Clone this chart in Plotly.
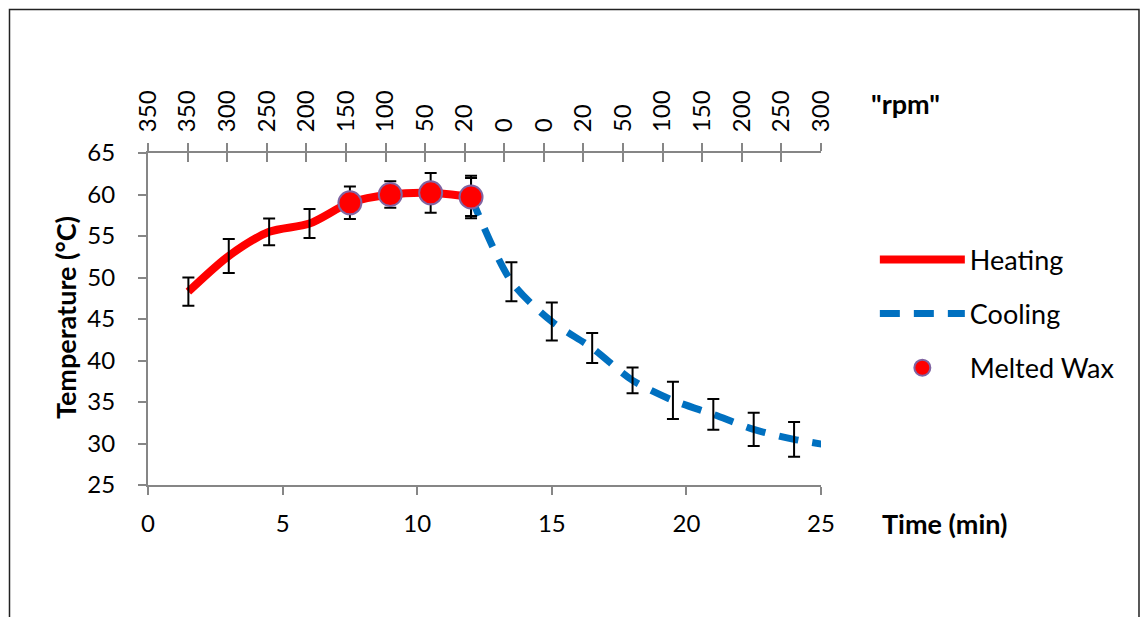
import plotly.graph_objects as go

# Heating phase: time (min), mean temperature (°C) and standard deviation
heat_time = [1.5, 3.0, 4.5, 6.0, 7.5, 9.0, 10.5, 12.0]
heat_temp = [48.3, 52.6, 55.5, 56.5, 59.0, 60.0, 60.2, 59.7]
heat_err = [1.7, 2.05, 1.6, 1.75, 1.95, 1.6, 2.4, 2.55]

# Cooling phase (last point lies past the axis end and is clipped)
cool_time = [12.0, 13.5, 15.0, 16.5, 18.0, 19.5, 21.0, 22.5, 24.0, 25.5]
cool_temp = [59.7, 49.5, 44.7, 41.5, 37.6, 35.2, 33.5, 31.7, 30.5, 29.7]
cool_err = [2.3, 2.35, 2.3, 1.8, 1.55, 2.25, 1.85, 2.0, 2.1, 2.0]

# Readings where the wax was melted
wax_time = [7.5, 9.0, 10.5, 12.0]
wax_temp = [59.0, 60.0, 60.2, 59.7]

# Stirring speed ("rpm") labels along the top axis
rpm_labels = ["350", "350", "300", "250", "200", "150", "100", "50", "20",
              "0", "0", "20", "50", "100", "150", "200", "250", "300"]

FONT = "Lato"
FS = 24        # tick labels
FS_LEG = 27    # legend entries
FS_TITLE = 27  # bold axis titles
AXIS_GRAY = "#868686"
RED = "#FF0000"
BLUE = "#0070C0"

# Top axis tick positions: evenly spaced categories
top_pos = list(range(len(rpm_labels)))

fig = go.Figure()

fig.add_trace(go.Scatter(
    x=heat_time, y=heat_temp, mode="lines", name="Heating",
    line=dict(color=RED, width=8, shape="spline", smoothing=0.8),
    legend="legend", hoverinfo="x+y"))

fig.add_trace(go.Scatter(
    x=cool_time, y=cool_temp, mode="lines", name="Cooling",
    line=dict(color=BLUE, width=7, shape="spline", smoothing=0.8, dash="20px,14px"),
    legend="legend2", hoverinfo="x+y"))

# Error bars for both phases
for xs, ys, es in [(heat_time, heat_temp, heat_err), (cool_time, cool_temp, cool_err)]:
    fig.add_trace(go.Scatter(
        x=xs, y=ys, mode="markers", showlegend=False, hoverinfo="skip",
        marker=dict(size=1, color="rgba(0,0,0,0)"),
        error_y=dict(type="data", array=es, visible=True, color="black",
                     thickness=2, width=6)))

fig.add_trace(go.Scatter(
    x=wax_time, y=wax_temp, mode="markers", name="Melted Wax",
    marker=dict(size=23, color=RED, line=dict(color="#8064A2", width=2)),
    legend="legend3"))

# Empty traces that attach the rpm scale (labels + inner tick half) to the plot
for ax in ["x2", "x3"]:
    fig.add_trace(go.Scatter(x=top_pos, y=[None] * len(top_pos), xaxis=ax, yaxis="y",
                             mode="lines", showlegend=False, hoverinfo="skip"))

axis_common = dict(showgrid=False, zeroline=False, linecolor=AXIS_GRAY, linewidth=2,
                   tickcolor=AXIS_GRAY, tickwidth=2, tickfont=dict(size=FS))

legend_common = dict(x=1.08, xanchor="left", yanchor="middle", itemwidth=85,
                     font=dict(size=FS_LEG), bgcolor="rgba(0,0,0,0)")

fig.update_layout(
    width=1147, height=617,
    margin=dict(l=148, r=326, t=153, b=132),
    paper_bgcolor="white", plot_bgcolor="white",
    font=dict(family=FONT, size=FS, color="black"),
    showlegend=True,
    xaxis=dict(range=[0, 25], tickmode="array", tickvals=[0, 5, 10, 15, 20, 25],
               showline=True, ticks="outside", ticklen=8, ticklabelstandoff=8,
               **axis_common),
    yaxis=dict(range=[25, 65], tickmode="array", tickvals=[25, 30, 35, 40, 45, 50, 55, 60, 65],
               showline=True, ticks="outside", ticklen=8, ticklabelstandoff=18,
               **axis_common),
    xaxis2=dict(overlaying="x", side="top", anchor="y", range=[0, len(rpm_labels) - 1],
                tickmode="array", tickvals=top_pos, ticktext=rpm_labels, tickangle=-90,
                showline=True, ticks="outside", ticklen=8, ticklabelstandoff=6,
                **axis_common),
    xaxis3=dict(overlaying="x", side="top", anchor="y", range=[0, len(rpm_labels) - 1],
                tickmode="array", tickvals=top_pos, showticklabels=False,
                showline=False, ticks="inside", ticklen=9,
                **axis_common),
    legend=dict(y=0.678, **legend_common),
    legend2=dict(y=0.515, **legend_common),
    legend3=dict(y=0.352, **legend_common),
)

title_common = dict(xref="paper", yref="paper", showarrow=False, font=dict(size=FS_TITLE),
                    xanchor="center", yanchor="middle")
fig.add_annotation(text="<b>Temperature (°C)</b>", textangle=-90, x=-0.1233, y=0.503,
                   **title_common)
fig.add_annotation(text="<b>Time (min)</b>", x=1.183, y=-0.1145, **title_common)
fig.add_annotation(text='<b>"rpm"</b>', x=1.126, y=1.1506, **title_common)

# Outer frame around the chart
fig.add_shape(type="rect", xref="paper", yref="paper",
              x0=-0.2058, x1=1.4725, y0=-0.48, y1=1.432,
              line=dict(color="#222222", width=1.5), fillcolor="rgba(0,0,0,0)", layer="below")

fig.write_html("out.html")
